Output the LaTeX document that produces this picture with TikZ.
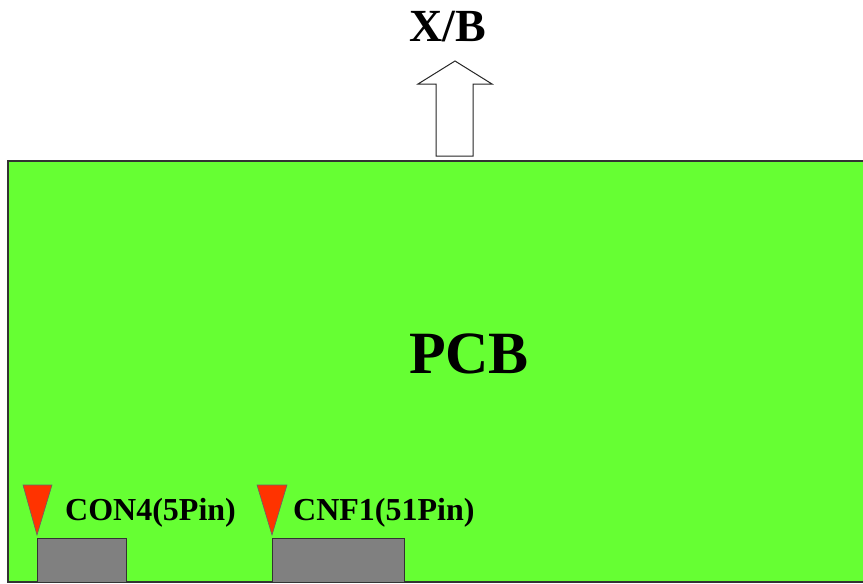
\documentclass[tikz,border=0pt]{standalone}
\usepackage{fontspec}
\setmainfont{Liberation Serif}
\usetikzlibrary{positioning, calc}
\definecolor{pcbgreen}{HTML}{66FF33}
\definecolor{pinred}{HTML}{FF3300}
\definecolor{boxgray}{HTML}{808080}

\begin{document}
\begin{tikzpicture}[x=1pt, y=-1pt,
    board/.style={draw=black!80, line width=1.2pt, fill=pcbgreen},
    conn/.style={draw=black!80, line width=0.8pt, fill=boxgray},
    pin/.style={draw=black!60, line width=0.6pt, fill=pinred},
    lbl/.style={font=\bfseries\fontsize{32}{34}\selectfont, anchor=west, inner sep=0pt}]
    \useasboundingbox (0,0) rectangle (863,584);

    % 板子
    \draw[board] (870,161) -- (8,161) -- (8,582) -- (870,582);
    \node[font=\bfseries\fontsize{60}{66}\selectfont] (pcb) at (469,354) {PCB};

    % 向上箭头
    \draw[draw=black!85, line width=1pt, fill=white]
        (436,156) -- (436,84) -- (418,84) -- (455,61) -- (492,84) -- (473,84) -- (473,156) -- cycle;
    \node[font=\bfseries\fontsize{46}{50}\selectfont] (xb) at (448,27) {X/B};

    % 连接器
    \draw[conn] (37,582) rectangle (126,538);
    \draw[pin] (23,485) -- (52,485) -- (37,535) -- cycle;
    \node[lbl] (con4) at (65,513) {CON4(5Pin)};

    \draw[conn] (272,582) rectangle (404,538);
    \draw[pin] (257,485) -- (287,485) -- (272,535) -- cycle;
    \node[lbl] (cnf1) at (293,513) {CNF1(51Pin)};
\end{tikzpicture}
\end{document}
